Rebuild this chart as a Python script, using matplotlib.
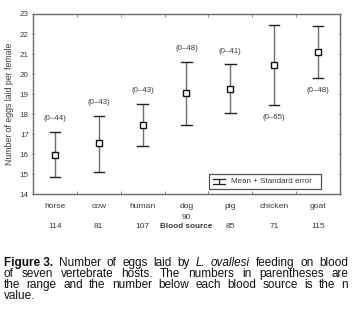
import matplotlib
matplotlib.use('Agg')
import matplotlib.pyplot as plt
from matplotlib.patches import Rectangle
import numpy as np

# values
hosts = ['horse', 'cow', 'human', 'dog', 'pig', 'chicken', 'goat']
mean_eggs = [15.98, 16.55, 17.47, 19.07, 19.26, 20.46, 21.1]
upper_se = [17.13, 17.92, 18.53, 20.62, 20.5, 22.45, 22.38]
lower_se = [14.88, 15.13, 16.4, 17.47, 18.06, 18.46, 19.8]
ranges = ['(0\u201344)', '(0\u201343)', '(0\u201343)', '(0\u201348)',
          '(0\u201341)', '(0\u201365)', '(0\u201348)']
n_values = ['114', '81', '107', '90', '85', '71', '115']
label_below = [False, False, False, False, False, True, True]

plt.rcParams['font.family'] = ['Liberation Sans', 'DejaVu Sans']
txt = '#3a3a3a'

fig = plt.figure(figsize=(3.54, 3.16), dpi=100)
ax = fig.add_axes([0.0932, 0.3851, 0.8672, 0.5706])

x = np.arange(len(hosts))
mean_arr = np.array(mean_eggs)
yerr = [mean_arr - np.array(lower_se), np.array(upper_se) - mean_arr]

ax.errorbar(x, mean_arr, yerr=yerr, fmt='none', ecolor='#6e6e6e',
            elinewidth=1.0, capsize=0, zorder=2)
# caps darker
for i in x:
    ax.plot([i - 0.12, i + 0.12], [upper_se[i], upper_se[i]], color='#222222', lw=1.0, zorder=3)
    ax.plot([i - 0.12, i + 0.12], [lower_se[i], lower_se[i]], color='#222222', lw=1.0, zorder=3)
ax.plot(x, mean_arr, linestyle='none', marker='s', markersize=3.7,
        markerfacecolor='white', markeredgecolor='#111111', markeredgewidth=1.0, zorder=4)

for i in x:
    if label_below[i]:
        ax.annotate(ranges[i], (i, lower_se[i]), xytext=(0, -9), textcoords='offset points',
                    ha='center', va='center', fontsize=5.7, color=txt)
    else:
        ax.annotate(ranges[i], (i, upper_se[i]), xytext=(0, 9.3), textcoords='offset points',
                    ha='center', va='center', fontsize=5.7, color=txt)

ax.set_xlim(-0.5, 6.5)
ax.set_ylim(14, 23)
ax.set_yticks(range(14, 24))
ax.set_xticks(x)
ax.set_xticklabels(hosts)
ax.set_xticks(np.arange(0.5, 6, 1), minor=True)
ax.tick_params(axis='x', which='major', length=0, pad=6.5, labelsize=6.1, labelcolor=txt)
ax.tick_params(axis='x', which='minor', length=2, direction='in', top=True, color='#777777')
ax.tick_params(axis='y', which='major', length=2, direction='inout', right=True,
               labelsize=5.8, labelcolor=txt, color='#777777', pad=2)
for s in ax.spines.values():
    s.set_color('#6a6a6a')
    s.set_linewidth(1.0)

ax.set_ylabel('Number of eggs laid per female', fontsize=6.3, color=txt, labelpad=4)

tr = ax.get_xaxis_transform()
for i in x:
    yy = -0.126 if n_values[i] == '90' else -0.181
    ax.text(i, yy, n_values[i], transform=tr, ha='center', va='center', fontsize=6.0, color=txt)
ax.text(3, -0.181, 'Blood source', transform=tr, ha='center', va='center',
        fontsize=5.9, fontweight='bold', color=txt)

# legend box drawn by hand
at = ax.transAxes
ax.add_patch(Rectangle((0.5733, 0.0294), 0.3647, 0.0832, transform=at, facecolor='white',
                       edgecolor='#555555', linewidth=0.9, zorder=5))
ax.plot([0.606, 0.606], [0.056, 0.084], transform=at, color='#222222', lw=0.9, zorder=6)
ax.plot([0.586, 0.626], [0.084, 0.084], transform=at, color='#222222', lw=0.9, zorder=6)
ax.plot([0.586, 0.626], [0.056, 0.056], transform=at, color='#222222', lw=0.9, zorder=6)
ax.text(0.645, 0.071, 'Mean + Standard error', transform=at, ha='left', va='center',
        fontsize=5.8, color=txt, zorder=6)

# caption, justified lines
caption = [
    [('Figure 3.', 'bold'), ('Number', ''), ('of', ''), ('eggs', ''), ('laid', ''), ('by', ''),
     ('L.', 'italic'), ('ovallesi', 'italic'), ('feeding', ''), ('on', ''), ('blood', '')],
    [('of', ''), ('seven', ''), ('vertebrate', ''), ('hosts.', ''), ('The', ''), ('numbers', ''),
     ('in', ''), ('parentheses', ''), ('are', '')],
    [('the', ''), ('range', ''), ('and', ''), ('the', ''), ('number', ''), ('below', ''),
     ('each', ''), ('blood', ''), ('source', ''), ('is', ''), ('the', ''), ('n', '')],
    [('value.', '')],
]
W = 354.0
Hpx = 316.0
x_left, x_right = 4.0, 348.0
line_y = [263, 274, 285, 296]
renderer = fig.canvas.get_renderer()
for li, words in enumerate(caption):
    objs = []
    for w, st in words:
        kw = {}
        if st == 'bold':
            kw['fontweight'] = 'bold'
        if st == 'italic':
            kw['fontstyle'] = 'italic'
        t = fig.text(0, 1 - line_y[li] / Hpx, w, fontsize=8.5, color='#111111',
                     va='center', ha='left', **kw)
        objs.append(t)
    widths = [o.get_window_extent(renderer).width for o in objs]
    if li < len(caption) - 1 and len(objs) > 1:
        gap = (x_right - x_left - sum(widths)) / (len(objs) - 1)
    else:
        gap = 3.0
    cx = x_left
    for o, wd in zip(objs, widths):
        o.set_x(cx / W)
        cx += wd + gap

fig.savefig('out.png', dpi=100)
